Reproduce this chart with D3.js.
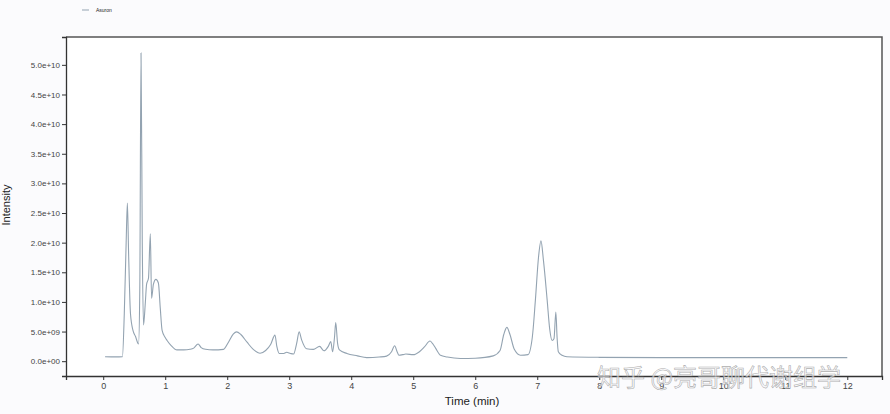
<!DOCTYPE html>
<html><head><meta charset="utf-8">
<script src="https://cdn.jsdelivr.net/npm/d3@7"></script>
<style>
body{margin:0;background:#fbfbfd;}
svg{display:block;font-family:"Liberation Sans",Arial,sans-serif;}
</style></head>
<body><svg id="c" width="890" height="414"></svg>
<script>
// Time (min)
const times = [0.03,0.20,0.31,0.34,0.37,0.39,0.41,0.44,0.48,0.52,0.57,0.59,0.61,0.63,0.65,0.68,0.70,0.73,0.76,0.78,0.81,0.85,0.89,0.92,0.95,1.00,1.03,1.10,1.19,1.30,1.40,1.46,1.53,1.58,1.65,1.77,1.94,2.02,2.10,2.15,2.22,2.32,2.42,2.53,2.62,2.70,2.77,2.80,2.84,2.90,2.96,3.02,3.07,3.12,3.16,3.20,3.28,3.39,3.49,3.56,3.63,3.67,3.70,3.73,3.75,3.78,3.81,3.93,4.10,4.25,4.45,4.57,4.65,4.70,4.74,4.77,4.83,4.88,5.00,5.10,5.18,5.27,5.31,5.36,5.44,5.55,5.76,6.00,6.29,6.40,6.46,6.51,6.56,6.63,6.73,6.85,6.92,6.97,7.02,7.06,7.10,7.16,7.20,7.24,7.27,7.30,7.32,7.34,7.40,7.48,8.0,9.0,10.0,11.0,12.0];
// Intensity (x 1e9)
const intensity = [0.75,0.72,0.75,8,20,26.7,18,8,5.2,4.2,2.9,12,52,20,6.1,10,13,14,21.5,10.6,13,13.8,13.2,9,5.2,4.0,3.5,2.6,1.9,1.9,2.0,2.2,2.9,2.3,2.0,1.9,2.0,3.2,4.6,4.95,4.5,3.2,2.0,1.35,1.8,2.8,4.4,2.5,1.3,1.3,1.5,1.3,1.2,3.0,4.95,3.6,2.1,2.0,2.5,1.75,2.5,3.3,1.6,4.0,6.5,3.0,1.9,1.3,0.9,0.6,0.7,0.85,1.6,2.6,1.6,1.0,1.1,1.2,1.1,1.6,2.4,3.4,3.0,2.2,1.0,0.7,0.45,0.5,0.9,1.8,4.5,5.7,4.5,2.0,1.0,1.1,4.0,10.3,17.5,20.3,17,10.3,5.5,3.5,3.8,8.3,4,1.6,1.0,0.75,0.65,0.6,0.6,0.6,0.6];
const xTicks = [0,1,2,3,4,5,6,7,8,9,10,11,12];
const yTicks = [0,5e9,1e10,1.5e10,2e10,2.5e10,3e10,3.5e10,4e10,4.5e10,5e10];
const yTickLabels = ["0.0e+00","5.0e+09","1.0e+10","1.5e+10","2.0e+10","2.5e+10","3.0e+10","3.5e+10","4.0e+10","4.5e+10","5.0e+10"];
const seriesName = "Asuron";
const xTitle = "Time (min)";
const yTitle = "Intensity";
const watermark = "知乎 @亮哥聊代谢组学";

const data = times.map((t,i)=>({t, v: intensity[i]*1e9}));
const svg = d3.select("#c");
const L=66, R=882, T=37, B=376;
const x = d3.scaleLinear().domain([-0.6,12.56]).range([L,R]);
const y = d3.scaleLinear().domain([-2.5e9,54.7e9]).range([B,T]);

svg.append("rect").attr("x",L).attr("y",T).attr("width",R-L).attr("height",B-T).attr("fill","#fff");

// line
svg.append("path").datum(data)
  .attr("fill","none").attr("stroke","#93a3b1").attr("stroke-width",1.1)
  .attr("d", d3.line().x(d=>x(d.t)).y(d=>y(d.v)).curve(d3.curveMonotoneX));

// frame
svg.append("path").attr("d",`M${L},${T}H${R}V${B}`).attr("fill","none").attr("stroke","#555").attr("stroke-width",1.5);

const xa = svg.append("g").attr("transform",`translate(0,${B})`)
  .call(d3.axisBottom(x).tickValues(xTicks).tickFormat(d3.format("d")).tickSizeOuter(0).tickSize(4).tickPadding(3));
const ya = svg.append("g").attr("transform",`translate(${L},0)`)
  .call(d3.axisLeft(y).tickValues(yTicks).tickFormat((d,i)=>yTickLabels[i]).tickSizeOuter(0).tickSize(4).tickPadding(2));
[xa,ya].forEach(a=>{
  a.select(".domain").attr("stroke","#333").attr("stroke-width",1.3);
  a.selectAll(".tick line").attr("stroke","#333");
  a.selectAll("text").attr("fill","#444").style("font-size","8px");
});
xa.selectAll("text").style("font-size","9px");

svg.append("text").attr("x",472).attr("y",405).attr("text-anchor","middle")
  .style("font-size","11.5px").attr("fill","#222").text(xTitle);
svg.append("text").attr("transform","translate(10,205) rotate(-90)").attr("text-anchor","middle")
  .style("font-size","11px").attr("fill","#222").text(yTitle);

// legend
svg.append("line").attr("x1",82).attr("x2",89).attr("y1",10).attr("y2",10).attr("stroke","#93a3b1");
svg.append("text").attr("x",96).attr("y",12).style("font-size","5px").attr("fill","#222").text(seriesName);

// watermark (as in the reference, it lies over the x-axis labels)
svg.append("text").attr("x",597).attr("y",386)
  .style("font-family","'Noto Sans CJK SC',sans-serif").style("font-size","24px")
  .attr("fill","#f6f6f8").attr("fill-opacity",0.6).attr("stroke","#8a8a8a").attr("stroke-width",0.6)
  .attr("stroke-opacity",0.7).text(watermark);
</script></body></html>
